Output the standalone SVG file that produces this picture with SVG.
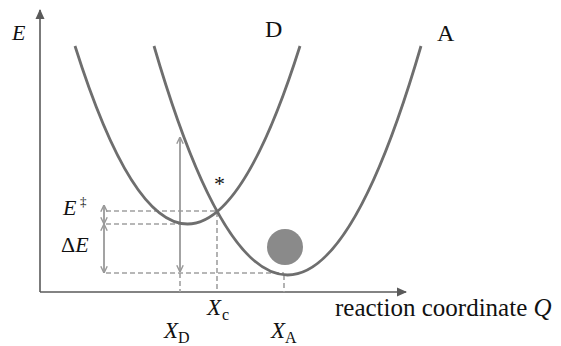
<svg xmlns="http://www.w3.org/2000/svg" width="561" height="346" viewBox="0 0 561 346">
<defs>
<style>
.axis{stroke:#5a5a5a;stroke-width:1.6;fill:none}
.curve{stroke:#6e6e6e;stroke-width:2.8;fill:none}
.dash{stroke:#a0a0a0;stroke-width:1.6;stroke-dasharray:5 3;fill:none}
.arr{stroke:#999;stroke-width:1.8;fill:none}
text{font-family:"Liberation Serif","Times New Roman",serif;fill:#111}
.it{font-style:italic}
</style>
<marker id="tri" viewBox="0 0 10 10" refX="9" refY="5" markerWidth="10" markerHeight="10" markerUnits="userSpaceOnUse" orient="auto">
<path d="M0,0.5 L10,5 L0,9.5 Z" fill="#5a5a5a"/>
</marker>
<marker id="vee" viewBox="0 0 10 10" refX="9.5" refY="5" markerWidth="8" markerHeight="8" markerUnits="userSpaceOnUse" orient="auto-start-reverse">
<path d="M1,1 L9.5,5 L1,9" fill="none" stroke="#999" stroke-width="1.8"/>
</marker>
</defs>
<rect width="561" height="346" fill="#fff"/>
<g id="axes">
<line class="axis" x1="40" y1="292" x2="40" y2="10" marker-end="url(#tri)"/>
<line class="axis" x1="40" y1="292" x2="406" y2="292" marker-end="url(#tri)"/>
</g>
<g id="ball"><circle cx="285" cy="247" r="18" fill="#8a8a8a"/></g>
<g id="connectors">
<line class="dash" x1="106" y1="211" x2="217" y2="211"/>
<line class="dash" x1="106" y1="224" x2="180" y2="224"/>
<line class="dash" x1="106" y1="273" x2="284" y2="273"/>
<line class="dash" x1="180" y1="273" x2="180" y2="292"/>
<line class="dash" x1="217" y1="212" x2="217" y2="292"/>
<line class="dash" x1="284" y1="275" x2="284" y2="292"/>
<line class="arr" x1="180" y1="137" x2="180" y2="272" marker-start="url(#vee)" marker-end="url(#vee)"/>
<line class="arr" x1="104" y1="205" x2="104" y2="224" marker-start="url(#vee)" marker-end="url(#vee)"/>
<line class="arr" x1="104" y1="224" x2="104" y2="273" marker-start="url(#vee)" marker-end="url(#vee)"/>
</g>
<g id="curve-D"><path class="curve" d="M75,46 Q187.5,402 300,46"/></g>
<g id="curve-A"><path class="curve" d="M154,46 Q287.5,504 421,46"/></g>
<g id="labels">
<text class="it" x="12" y="40" font-size="22">E</text>
<text x="265" y="37" font-size="24">D</text>
<text x="437" y="41" font-size="24">A</text>
<text x="214" y="191" font-size="22">*</text>
<text class="it" x="63" y="215" font-size="22">E</text>
<text x="80" y="206" font-size="13">‡</text>
<text x="61" y="252" font-size="22">Δ<tspan class="it">E</tspan></text>
<text class="it" x="164" y="338" font-size="23">X</text>
<text x="178" y="343" font-size="16">D</text>
<text class="it" x="207" y="315" font-size="23">X</text>
<text x="222" y="320" font-size="16">c</text>
<text class="it" x="271" y="338" font-size="23">X</text>
<text x="285" y="343" font-size="16">A</text>
<text x="335" y="316" font-size="25">reaction coordinate <tspan class="it">Q</tspan></text>
</g>
</svg>
